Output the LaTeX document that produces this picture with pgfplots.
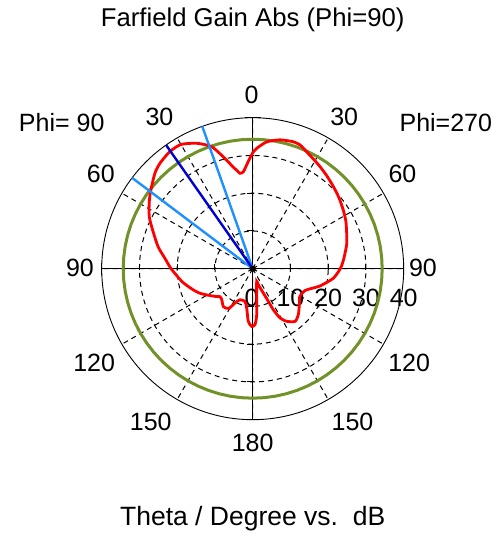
\documentclass[border=0pt]{standalone}
\usepackage{fontspec}
\setmainfont{Liberation Sans}
\usepackage{pgfplots}
\pgfplotsset{compat=1.18}
\usepgfplotslibrary{polar}
\definecolor{cstred}{RGB}{255,0,0}
\definecolor{cstgreen}{RGB}{112,146,40}
\definecolor{cstdblue}{RGB}{0,0,210}
\definecolor{cstlblue}{RGB}{30,144,255}
\begin{document}
\begin{tikzpicture}[every node/.style={font=\fontsize{25}{30}\selectfont, inner sep=0pt}]
\path[use as bounding box] (-252.7pt,-270.3pt) rectangle (250.3pt,268.7pt);
\begin{polaraxis}[
  at={(0pt,0pt)}, anchor=center,
  scale only axis, width=302pt, height=302pt,
  ymin=0, ymax=40,
  xtick={0,30,...,330}, ytick={10,20,30},
  xticklabels={}, yticklabels={},
  grid=major,
  major grid style={black, line width=1pt, dash pattern=on 5pt off 4pt},
  axis line style={black, line width=0.9pt},
  tick style={draw=none},
  clip=false,
]
% radial labels
\node[anchor=base] at ([xshift=-1pt,yshift=-38pt]axis cs:0,0) {0};
\node[anchor=base] at ([yshift=-38pt]axis cs:0,10) {10};
\node[anchor=base] at ([yshift=-38pt]axis cs:0,20) {20};
\node[anchor=base] at ([yshift=-38pt]axis cs:0,30) {30};
\node[anchor=base] at ([yshift=-38pt]axis cs:0,40) {40};
% solid main axes
\draw[black, line width=1.3pt] (axis cs:0,40) -- (axis cs:180,40);
\draw[black, line width=1.3pt] (axis cs:90,40) -- (axis cs:270,40);
\draw[black, line width=1.1pt] ([yshift=-6pt]axis cs:0,40) -- ([yshift=6pt]axis cs:0,40);
\draw[black, line width=1.1pt] ([yshift=-6pt]axis cs:180,40) -- ([yshift=6pt]axis cs:180,40);
\draw[black, line width=1.1pt] ([xshift=-8pt]axis cs:90,40) -- ([xshift=8pt]axis cs:90,40);
\draw[black, line width=1.1pt] ([xshift=-8pt]axis cs:270,40) -- ([xshift=8pt]axis cs:270,40);
\draw[black, line width=1pt] ([yshift=-1pt]axis cs:0,10) -- ([yshift=5pt]axis cs:0,10);
\draw[black, line width=1pt] ([yshift=-1pt]axis cs:0,20) -- ([yshift=5pt]axis cs:0,20);
\draw[black, line width=1pt] ([yshift=-1pt]axis cs:0,30) -- ([yshift=5pt]axis cs:0,30);
\draw[black, line width=1pt] ([yshift=-1pt]axis cs:180,10) -- ([yshift=5pt]axis cs:180,10);
\draw[black, line width=1pt] ([yshift=-1pt]axis cs:180,20) -- ([yshift=5pt]axis cs:180,20);
\draw[black, line width=1pt] ([yshift=-1pt]axis cs:180,30) -- ([yshift=5pt]axis cs:180,30);
\draw[black, line width=1pt] ([xshift=-6pt]axis cs:90,10) -- ([xshift=1pt]axis cs:90,10);
\draw[black, line width=1pt] ([xshift=-6pt]axis cs:90,20) -- ([xshift=1pt]axis cs:90,20);
\draw[black, line width=1pt] ([xshift=-6pt]axis cs:90,30) -- ([xshift=1pt]axis cs:90,30);
\draw[black, line width=1pt] ([xshift=-6pt]axis cs:270,10) -- ([xshift=1pt]axis cs:270,10);
\draw[black, line width=1pt] ([xshift=-6pt]axis cs:270,20) -- ([xshift=1pt]axis cs:270,20);
\draw[black, line width=1pt] ([xshift=-6pt]axis cs:270,30) -- ([xshift=1pt]axis cs:270,30);
% green reference circle
\addplot[no markers, cstgreen, line width=3pt] coordinates {
(0,34.3) (5,34.3) (10,34.3) (15,34.3) (20,34.3) (25,34.3) (30,34.3) (35,34.3) (40,34.3) (45,34.3)
(50,34.3) (55,34.3) (60,34.3) (65,34.3) (70,34.3) (75,34.3) (80,34.3) (85,34.3) (90,34.3) (95,34.3)
(100,34.3) (105,34.3) (110,34.3) (115,34.3) (120,34.3) (125,34.3) (130,34.3) (135,34.3) (140,34.3) (145,34.3)
(150,34.3) (155,34.3) (160,34.3) (165,34.3) (170,34.3) (175,34.3) (180,34.3) (185,34.3) (190,34.3) (195,34.3)
(200,34.3) (205,34.3) (210,34.3) (215,34.3) (220,34.3) (225,34.3) (230,34.3) (235,34.3) (240,34.3) (245,34.3)
(250,34.3) (255,34.3) (260,34.3) (265,34.3) (270,34.3) (275,34.3) (280,34.3) (285,34.3) (290,34.3) (295,34.3)
(300,34.3) (305,34.3) (310,34.3) (315,34.3) (320,34.3) (325,34.3) (330,34.3) (335,34.3) (340,34.3) (345,34.3)
(350,34.3) (355,34.3) (360,34.3)
};
% farfield gain
\addplot[no markers, cstred, line width=2.8pt, smooth, tension=0.4] coordinates {
(90,30.7) (88.1,31.9) (83.7,33.8) (78,34.9) (72.3,35.3) (69,35.1) (65.2,34.1) (61,33.2)
(56.6,32.4) (51.5,31.5) (45.5,30.5) (39.5,29.6) (33,28.6) (27,27.7) (20.6,26.6) (15,25.8)
(9.5,24.8) (4.5,24.0) (0,23.2) (-6.8,21.5) (-14.4,18.4) (-18.4,16.5) (-22.8,15.0) (-30.6,14.5)
(-37,15.5) (-45.4,17.2) (-51.2,17.9) (-57.1,16.6) (-61,14.9) (-63.3,12.2) (-64.4,9.6) (-66.4,7.0)
(-70.7,4.5) (-72.4,3.5) (-81.3,7.0) (-85,12.2) (-87.6,14.8) (-91,15.3) (-94.8,14.0) (-98.7,10.5)
(-103.3,8.9) (-112.3,8.9) (-117.3,10.2) (-121.1,12.3) (-127.6,12.7) (-135,11.6) (-139.4,11.4)
(-143.8,12.4) (-150.2,14.0) (-155,15.4) (-160.3,16.7) (-169.5,19.0) (-180,21.6) (-187,23.5)
(-193,25.7) (-200,28.0) (-206.5,30.6) (-212.5,32.5) (-217,33.9) (-224.3,36.2) (-228.7,37.2)
(-234.7,38.0) (-240,38.0) (-245.9,36.4) (-251.4,34.1) (-256,30.0) (-259,27.5) (-261,26.3)
(-262.4,25.5) (-264.5,25.8) (-267.6,28.4) (-270,30.7)
};
% main lobe direction and 3 dB width
\addplot[no markers, cstlblue, line width=2.4pt] coordinates {(109.5,0) (109.5,40)};
\addplot[no markers, cstlblue, line width=2.4pt] coordinates {(143,0) (143,40)};
\addplot[no markers, cstdblue, line width=2.4pt] coordinates {(125,0) (125,40)};
\fill[black] (axis cs:0,0) circle (3pt);
\end{polaraxis}
% angle labels
\node[anchor=base] at (-1pt,165.4pt) {0};
\node[anchor=base] at (-93.2pt,143.7pt) {30};
\node[anchor=base] at (91.5pt,143.7pt) {30};
\node[anchor=base] at (-151.9pt,86.4pt) {60};
\node[anchor=base] at (149.8pt,86.4pt) {60};
\node[anchor=base] at (-172.7pt,-8pt) {90};
\node[anchor=base] at (170.3pt,-8pt) {90};
\node[anchor=base] at (-158.5pt,-103pt) {120};
\node[anchor=base] at (156.5pt,-103pt) {120};
\node[anchor=base] at (-101.9pt,-161.3pt) {150};
\node[anchor=base] at (99.8pt,-161.3pt) {150};
\node[anchor=base] at (0pt,-183pt) {180};
\node[anchor=base] at (-191pt,137pt) {Phi= 90};
\node[anchor=base] at (193.1pt,137pt) {Phi=270};
\node[anchor=base, font=\fontsize{25.7}{30}\selectfont] at (0pt,242.7pt) {Farfield Gain Abs (Phi=90)};
\node[anchor=base, font=\fontsize{26.5}{30}\selectfont] at (0pt,-256.3pt) {Theta / Degree vs.\ \ dB};
\end{tikzpicture}
\end{document}
